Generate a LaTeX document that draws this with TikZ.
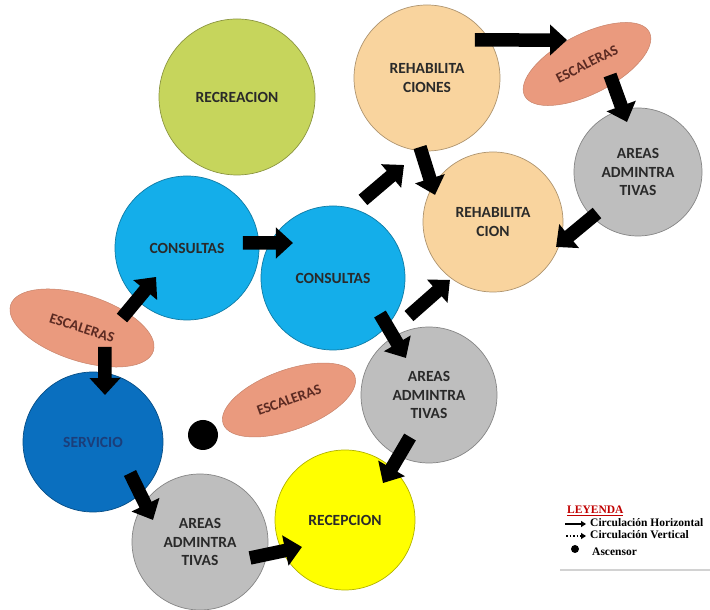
\documentclass[tikz,border=0pt]{standalone}
\usepackage{fontspec}
\setmainfont{Carlito}
\newfontfamily\leyfont{Liberation Serif}
\usetikzlibrary{positioning, arrows.meta, calc, shapes.geometric}
\usepackage{xcolor}
\definecolor{verdeRec}{HTML}{C6D55C}
\definecolor{durazno}{HTML}{F9D49E}
\definecolor{grisZona}{HTML}{BEBEBE}
\definecolor{celeste}{HTML}{14AEEA}
\definecolor{azulServ}{HTML}{0A6FBF}
\definecolor{amarillo}{HTML}{FFFF00}
\definecolor{salmon}{HTML}{EA9A7E}
\definecolor{txtZona}{HTML}{2A2A2A}
\definecolor{txtServ}{HTML}{1B3E7A}
\definecolor{txtEsc}{HTML}{5B2A22}
\definecolor{rojoLey}{HTML}{C00000}

\begin{document}
\begin{tikzpicture}[x=1pt, y=1pt,
  zona/.style={circle, fill=#1, draw=#1!70!black, line width=0.7pt, inner sep=0pt,
    align=center, text=txtZona, font=\bfseries\fontsize{15.5}{18.5}\selectfont},
  escal/.style={ellipse, fill=salmon, draw=salmon!85!black, line width=0.5pt, inner sep=0pt,
    text=txtEsc, font=\bfseries\fontsize{14.5}{16}\selectfont},
  flecha/.style={line width=13.5pt, -{Triangle[length=17pt, width=30pt]}},
  leyenda/.style={anchor=base west, inner sep=0pt, font=\leyfont\bfseries\fontsize{11.5}{13}\selectfont}]
\useasboundingbox (0,0) rectangle (710,610);
% Zones
\node[zona=verdeRec, minimum size=156pt] (recre) at (237,513) {RECREACION};
\node[zona=durazno, minimum size=146pt] (rehabA) at (427,532) {REHABILITA\\CIONES};
\node[zona=grisZona, minimum size=128pt] (areasA) at (638,438) {AREAS\\ADMINTRA\\TIVAS};
\node[zona=durazno, minimum size=140pt] (rehabB) at (493,388) {REHABILITA\\CION};
\node[zona=celeste, minimum size=144pt] (consA) at (187,362) {CONSULTAS};
\node[zona=celeste, minimum size=144pt] (consB) at (333,332) {CONSULTAS};
\node[zona=azulServ, minimum size=140pt, text=txtServ] (servi) at (93,168) {SERVICIO};
\node[zona=grisZona, minimum size=136pt] (areasB) at (429,215) {AREAS\\ADMINTRA\\TIVAS};
\node[zona=amarillo, minimum size=140pt] (recep) at (345,90) {RECEPCION};
\node[zona=grisZona, minimum size=136pt] (areasC) at (200,68) {AREAS\\ADMINTRA\\TIVAS};
% Stairs and lift
\node[escal, minimum width=140pt, minimum height=60pt, rotate=27] (escA) at (587,546) {ESCALERAS};
\node[escal, minimum width=150pt, minimum height=66pt, rotate=-18] (escB) at (82,282) {ESCALERAS};
\node[escal, minimum width=140pt, minimum height=60pt, rotate=20] (escC) at (289,210) {ESCALERAS};
\node[circle, fill=black, minimum size=30pt, inner sep=0pt] (ascen) at (203,175) {};
% Circulation
\draw[flecha] ($(rehabA)+(38.4:61.2)$) -- ($(escA)+(129.8:31.2)$);
\draw[flecha] ($(escA)+(-25.6:25.5)$) -- ($(areasA)+(102.4:51.2)$);
\draw[flecha] ($(areasA)+(-135:58)$) -- ($(rehabB)+(-21.6:67.8)$);
\draw[flecha] ($(rehabA)+(-95.8:69.4)$) -- ($(rehabB)+(155:64)$);
\draw[flecha] ($(consB)+(69:83.6)$) -- ($(rehabA)+(-104.8:90)$);
\draw[flecha] ($(consB)+(-26.6:85)$) -- ($(rehabB)+(-126.6:72.2)$);
\draw[flecha] ($(consB)+(-37.5:59.2)$) -- ($(areasB)+(121.9:43.6)$);
\draw[flecha] ($(consA)+(5.1:56.2)$) -- ($(consB)+(138.8:53.2)$);
\draw[flecha] ($(escB)+(14:41.2)$) -- ($(consA)+(-136.9:42.4)$);
\draw[flecha] ($(escB)+(-39.6:29.8)$) -- ($(servi)+(75.7:48.5)$);
\draw[flecha] ($(servi)+(-40:48.3)$) -- ($(areasC)+(154.9:51.9)$);
\draw[flecha] ($(areasC)+(-17.7:52.5)$) -- ($(recep)+(-147.9:50.8)$);
\draw[flecha] ($(areasB)+(-114.3:46.1)$) -- ($(recep)+(44.2:53)$);
% Legend
\node[leyenda, text=rojoLey] (leyT) at (567,96) {\underline{LEYENDA}};
\node[leyenda] (leyH) at (590,83) {Circulación Horizontal};
\node[leyenda] (leyV) at (590,71) {Circulación Vertical};
\node[leyenda] (leyA) at (592,54) {Ascensor};
\coordinate (icoH) at (565,86);
\coordinate (icoV) at (566,74);
\draw[line width=2pt, -{Triangle[length=5pt, width=6pt]}] (icoH) -- ($(leyH.base west)+(-4,3)$);
\draw[line width=1.5pt, dotted, -{Triangle[length=5pt, width=6pt]}] (icoV) -- ($(leyV.base west)+(-4,3)$);
\node[circle, fill=black, minimum size=8pt, inner sep=0pt] (icoA) at (575,61) {};
\draw[gray!35, line width=2pt] (560,40) -- (710,40);
\end{tikzpicture}
\end{document}
